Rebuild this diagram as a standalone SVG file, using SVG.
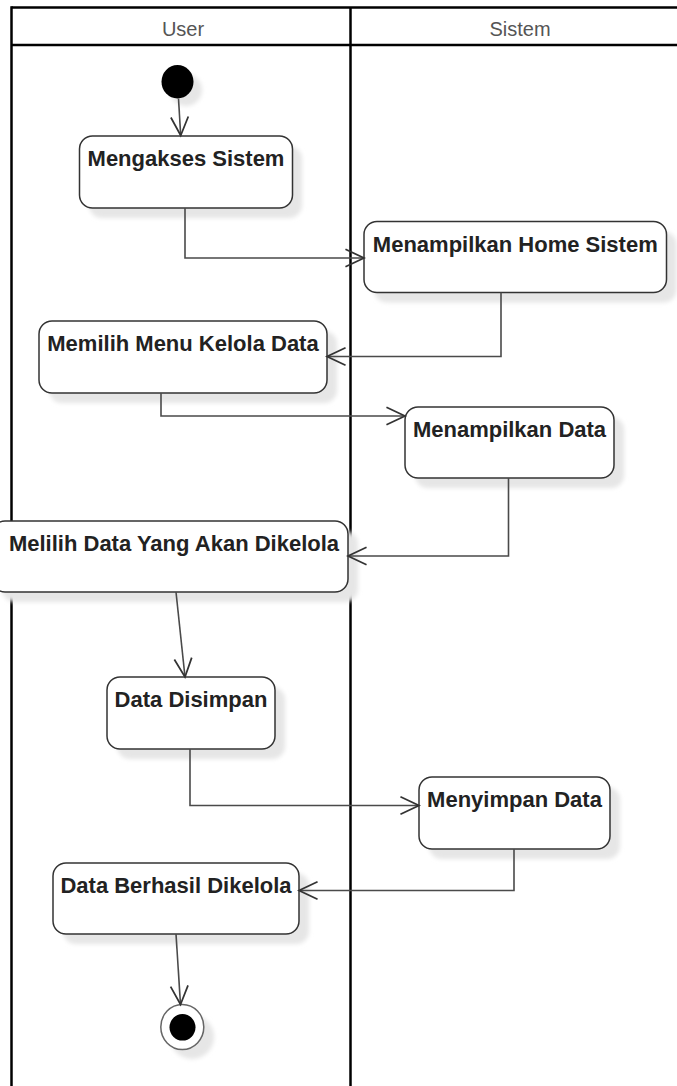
<svg xmlns="http://www.w3.org/2000/svg" width="677" height="1086" viewBox="0 0 677 1086">
<style>
.lane{stroke:#000;stroke-width:2.5;fill:none}
.hdr{font-family:"Liberation Sans",Arial,sans-serif;font-size:20px;fill:#555;text-anchor:middle}
.box{fill:#fff;stroke:#333;stroke-width:1.5}
.sh{fill:#e6e6e6;filter:url(#blur)}
.lbl{font-family:"Liberation Sans",Arial,sans-serif;font-size:22px;font-weight:bold;fill:#222;text-anchor:middle}
.con{fill:none;stroke:#4a4a4a;stroke-width:1.6;marker-end:url(#arr)}
</style>
<defs>
<filter id="blur" x="-20%" y="-20%" width="140%" height="140%"><feGaussianBlur stdDeviation="2"/></filter>
<marker id="arr" markerUnits="userSpaceOnUse" markerWidth="24" markerHeight="24" viewBox="-20 -10 22 20" refX="0" refY="0" orient="auto">
<path d="M-17,-8 L0,0 L-17,8" fill="none" stroke="#333" stroke-width="1.6"/>
</marker>
</defs>
<g id="swimlanes">
<line class="lane" x1="11.5" y1="7.5" x2="677" y2="7.5"/>
<line class="lane" x1="11.5" y1="45" x2="677" y2="45"/>
<line class="lane" x1="11.5" y1="6.3" x2="11.5" y2="1086"/>
<line class="lane" x1="350.5" y1="7.5" x2="350.5" y2="1086"/>
<text class="hdr" x="183" y="36">User</text>
<text class="hdr" x="520" y="36">Sistem</text>
</g>
<g id="start">
<circle class="sh" cx="186" cy="90" r="16"/>
<ellipse cx="177.5" cy="81.7" rx="16" ry="16.7" fill="#000"/>
</g>
<g id="n1">
<rect class="sh" x="89" y="146" width="213" height="72" rx="13"/>
<rect class="box" x="79.5" y="136" width="213" height="72" rx="13"/>
<text class="lbl" x="186" y="166">Mengakses Sistem</text>
</g>
<g id="n2">
<rect class="sh" x="374" y="231.5" width="302.5" height="71" rx="13"/>
<rect class="box" x="364" y="221.5" width="302.5" height="71" rx="13"/>
<text class="lbl" x="515.3" y="251.5">Menampilkan Home Sistem</text>
</g>
<g id="n3">
<rect class="sh" x="49" y="331" width="288" height="72" rx="13"/>
<rect class="box" x="39" y="321" width="288" height="72" rx="13"/>
<text class="lbl" x="183" y="351">Memilih Menu Kelola Data</text>
</g>
<g id="n4">
<rect class="sh" x="415" y="417" width="209" height="71" rx="13"/>
<rect class="box" x="405" y="407" width="209" height="71" rx="13"/>
<text class="lbl" x="509.5" y="437">Menampilkan Data</text>
</g>
<g id="n5">
<rect class="sh" x="2" y="531" width="356" height="71" rx="13"/>
<rect class="box" x="-8" y="521" width="356" height="71" rx="13"/>
<text class="lbl" x="174" y="551">Melilih Data Yang Akan Dikelola</text>
</g>
<g id="n6">
<rect class="sh" x="117" y="687" width="168" height="72" rx="13"/>
<rect class="box" x="107" y="677" width="168" height="72" rx="13"/>
<text class="lbl" x="191" y="707">Data Disimpan</text>
</g>
<g id="n7">
<rect class="sh" x="429" y="787" width="191" height="72" rx="13"/>
<rect class="box" x="419" y="777" width="191" height="72" rx="13"/>
<text class="lbl" x="514.5" y="807">Menyimpan Data</text>
</g>
<g id="n8">
<rect class="sh" x="63" y="873" width="246" height="71" rx="13"/>
<rect class="box" x="53" y="863" width="246" height="71" rx="13"/>
<text class="lbl" x="176" y="893">Data Berhasil Dikelola</text>
</g>
<g id="end">
<circle class="sh" cx="192" cy="1037" r="22"/>
<ellipse cx="182.3" cy="1027" rx="21.5" ry="22.5" fill="#fff" stroke="#666" stroke-width="1.5"/>
<ellipse cx="182.5" cy="1027.3" rx="13" ry="13.3" fill="#000"/>
</g>
<g id="connectors">
<path class="con" d="M178.5,98.5 L180.7,135.5"/>
<path class="con" d="M185,208 V258 H364"/>
<path class="con" d="M501,292.5 V356.5 H327"/>
<path class="con" d="M161,393 V416 H405"/>
<path class="con" d="M508.5,478 V556 H348"/>
<path class="con" d="M176,592 L185,677"/>
<path class="con" d="M190,749 V805.5 H419"/>
<path class="con" d="M514,849 V890.5 H299"/>
<path class="con" d="M176,934 L180.5,1004.5"/>
</g>
</svg>
